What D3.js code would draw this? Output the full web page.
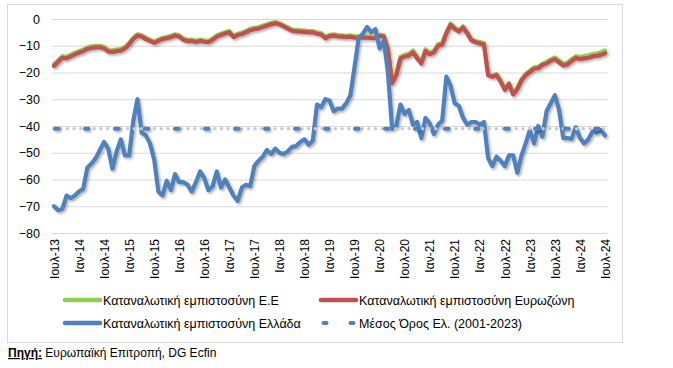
<!DOCTYPE html>
<html><head><meta charset="utf-8">
<script src="https://cdn.jsdelivr.net/npm/d3@7"></script>
<style>html,body{margin:0;padding:0;background:#fff}svg{display:block}</style>
</head><body>
<script>
// Monthly data, Jul-2013 .. Jul-2024 (133 months)
const tickLabels = ["Ιουλ-13","Ιαν-14","Ιουλ-14","Ιαν-15","Ιουλ-15","Ιαν-16","Ιουλ-16","Ιαν-17","Ιουλ-17","Ιαν-18","Ιουλ-18","Ιαν-19","Ιουλ-19","Ιαν-20","Ιουλ-20","Ιαν-21","Ιουλ-21","Ιαν-22","Ιουλ-22","Ιαν-23","Ιουλ-23","Ιαν-24","Ιουλ-24"];
const yTicks = [0,-10,-20,-30,-40,-50,-60,-70,-80];
const seriesNames = ["Καταναλωτική εμπιστοσύνη Ε.Ε","Καταναλωτική εμπιστοσύνη Ευρωζώνη","Καταναλωτική εμπιστοσύνη Ελλάδα","Μέσος Όρος Ελ. (2001-2023)"];
const greece = [
-70,-71.5,-71,-66,-67,-66,-64.5,-63.5,-55.5,-54,
-52,-49,-46,-48.5,-56,-49.5,-45,-51,-51,-38,
-30,-42.5,-43.5,-46.5,-52.5,-64.5,-66,-60.5,-64,-58,
-61,-61,-62,-64.5,-61,-57,-59.5,-64,-62.5,-57,
-63,-60,-63,-66,-68,-63,-62,-62.5,-55,-53,
-51.5,-49,-50.5,-48.5,-50,-50.5,-49.5,-47.8,-47.5,-46,
-45,-47,-45.5,-32,-33,-30,-30.5,-34.5,-33.5,-33.5,
-31.5,-28.5,-18,-7,-5.5,-3,-5,-3.8,-11,-8,
-20,-41,-40,-32,-35.5,-34,-39.5,-38.5,-44.5,-37,
-39,-43,-39.5,-38,-21.5,-25,-31.5,-32.5,-37,-39.5,
-38.5,-38.5,-39.5,-38.5,-52,-55,-51.5,-53,-55,-51,
-51,-57.5,-51,-46.5,-41.5,-46.5,-40,-44,-34.5,-31.5,
-28.5,-34,-44.5,-44.5,-44.8,-40.5,-44.5,-46.5,-45,-42,
-42.5,-41.5,-43.5];
const eurozone = [
-17.6,-16,-14.5,-14.7,-14,-13.2,-12.6,-12,-11.2,-10.8,
-10.6,-10.6,-11,-12.2,-12.3,-12,-11.8,-11,-9.5,-7.5,
-6.2,-6.6,-7.5,-8.2,-8.9,-8.2,-7.5,-7.2,-6.8,-6.2,
-6.6,-7.8,-8.3,-8.2,-8.6,-8.2,-8.5,-8.7,-7.8,-6.6,
-6,-5.4,-5,-6.8,-6,-5.6,-5,-4.2,-3.8,-3.6,
-3,-2.5,-2,-1.6,-2,-2.8,-3.6,-4.4,-4.6,-4.7,
-4.8,-5,-5,-5.5,-5.8,-7.2,-6.4,-6.2,-6.5,-6.6,
-6.8,-6.6,-7,-7,-7,-7,-7.1,-7.2,-6.3,-6.6,
-11.5,-24,-21,-14.8,-14,-13.7,-12.5,-14.7,-16.6,-12,
-13.2,-12.5,-10,-9.5,-5.4,-2.2,-3.7,-4.7,-3.2,-5.4,
-8,-8.7,-9.1,-9.5,-21,-21.6,-21,-23.4,-26.5,-24.4,
-28.2,-26.2,-23,-21,-19.8,-18.6,-18.4,-17.2,-16.6,-15.6,
-15,-16.2,-17.4,-17,-15.7,-14.6,-15,-14.7,-14.5,-14,
-13.8,-13.4,-12.8];
const eu = [
-16.9,-15.4,-13.9,-14.1,-13.4,-12.6,-12,-11.4,-10.6,-10.2,
-10,-10,-10.4,-11.6,-11.8,-11.4,-11.2,-10.4,-9,-7,
-5.7,-6.1,-7,-7.7,-8.4,-7.7,-7,-6.7,-6.3,-5.7,
-6.1,-7.3,-7.8,-7.7,-8.1,-7.7,-8,-8.2,-7.3,-6.1,
-5.5,-4.9,-4.5,-6.3,-5.5,-5.1,-4.5,-3.7,-3.3,-3.1,
-2.5,-2,-1.5,-1.1,-1.5,-2.3,-3.1,-3.9,-4.1,-4.2,
-4.3,-4.5,-4.5,-5,-5.3,-6.7,-5.9,-5.7,-6,-6.1,
-6.3,-6.1,-6.5,-6.5,-6.5,-6.5,-6.6,-6.7,-5.8,-6.1,
-11,-23.3,-20.4,-14.2,-13.4,-13,-11.8,-14,-16,-11.4,
-12.6,-11.9,-9.4,-8.9,-4.9,-1.7,-3.2,-4.2,-2.7,-4.9,
-7.5,-8.2,-8.6,-9,-20.5,-21.1,-20.5,-22.9,-26,-23.9,
-27.7,-25.7,-22.5,-20.5,-19.3,-18.1,-17.9,-16.7,-16.1,-15.1,
-14.4,-15.5,-16.7,-16.3,-15,-13.9,-14.2,-13.9,-13.6,-13.1,
-12.9,-12.4,-11.8];
const greeceAverage = -41;

const W = 673, H = 368;
const FONT = "'Liberation Sans', Arial, sans-serif";
const C_EU = "#8fcf4e", C_EZ = "#c0504d", C_GR = "#4f81bd";

const svg = d3.select("body").append("svg").attr("width", W).attr("height", H)
  .style("font-family", FONT);
svg.append("rect").attr("width", W).attr("height", H).attr("fill", "#fff");

const defs = svg.append("defs");
const f = defs.append("filter").attr("id","sh").attr("filterUnits","userSpaceOnUse")
  .attr("x",0).attr("y",0).attr("width",W).attr("height",H);
f.append("feDropShadow").attr("dx",1.5).attr("dy",1.8).attr("stdDeviation",1.2)
  .attr("flood-color","#000").attr("flood-opacity",0.3);

// chart frame
svg.append("rect").attr("x",7.5).attr("y",4.5).attr("width",615).attr("height",338)
  .attr("fill","none").attr("stroke","#d9d9d9").attr("stroke-width",1);

const n = greece.length;
const x = d3.scaleLinear().domain([0, n-1]).range([54, 605]);
const y = d3.scaleLinear().domain([-80, 0]).range([233, 19]);

// gridlines + y labels
const yAxis = d3.axisLeft(y).tickValues(yTicks).tickSize(-(608-52)).tickFormat(d3.format("d")).tickPadding(12);
const gy = svg.append("g").attr("transform","translate(52,0)").call(yAxis);
gy.select(".domain").remove();
gy.selectAll(".tick line").attr("stroke","#d9d9d9").attr("stroke-width",1);
gy.selectAll(".tick text").attr("font-size",12.5).attr("fill","#000").attr("font-family",FONT);

// x labels
const tickIdx = tickLabels.map((_, k) => k*6);
const xAxis = d3.axisBottom(x).tickValues(tickIdx).tickFormat((d,k)=>tickLabels[k]).tickSize(0);
const gx = svg.append("g").attr("transform","translate(0,233)").call(xAxis);
gx.select(".domain").remove();
gx.selectAll(".tick text")
  .attr("font-size",12).attr("fill","#000").attr("font-family",FONT)
  .attr("text-anchor","end")
  .attr("transform","rotate(-90)")
  .attr("x",-6).attr("y",0).attr("dy","0.35em");

const line = d3.line().x((d,i)=>x(i)).y(d=>y(d)).curve(d3.curveLinear);
const gl = svg.append("g").attr("filter","url(#sh)");
gl.append("path").datum(eu).attr("d",line).attr("fill","none").attr("stroke",C_EU)
  .attr("stroke-width",4.2).attr("stroke-linejoin","round").attr("stroke-linecap","round");
gl.append("path").datum(eurozone).attr("d",line).attr("fill","none").attr("stroke",C_EZ)
  .attr("stroke-width",4.2).attr("stroke-linejoin","round").attr("stroke-linecap","round");
gl.append("path").datum(greece).attr("d",line).attr("fill","none").attr("stroke",C_GR)
  .attr("stroke-width",4.2).attr("stroke-linejoin","round").attr("stroke-linecap","round");

// average line: grey dots + blue dashes
const avgData = greece.map(()=>greeceAverage);
svg.append("path").datum(avgData).attr("d",line).attr("fill","none").attr("stroke","#c8cdd3")
  .attr("stroke-width",3.5).attr("stroke-linecap","round").attr("stroke-dasharray","0 6.7");
svg.append("path").datum(avgData).attr("d",line).attr("fill","none").attr("stroke",C_GR)
  .attr("stroke-width",4).attr("stroke-linecap","round").attr("stroke-dasharray","3.5 26.5")
  .attr("stroke-dashoffset",-1).attr("filter","url(#sh)");

// legend
const leg = svg.append("g").attr("font-size",12.5).attr("fill","#000");
const legItems = [
  {x:65, y:300, c:C_EU, t:seriesNames[0], type:"line"},
  {x:321, y:300, c:C_EZ, t:seriesNames[1], type:"line"},
  {x:65, y:323, c:C_GR, t:seriesNames[2], type:"line"},
  {x:321, y:323, c:C_GR, t:seriesNames[3], type:"avg"}
];
legItems.forEach(it=>{
  if (it.type==="line") {
    leg.append("line").attr("x1",it.x).attr("x2",it.x+35).attr("y1",it.y).attr("y2",it.y)
      .attr("stroke",it.c).attr("stroke-width",4.5).attr("stroke-linecap","round");
  } else {
    [it.x+4, it.x+31].forEach(px=>{
      leg.append("line").attr("x1",px-1.5).attr("x2",px+1.5).attr("y1",it.y).attr("y2",it.y)
        .attr("stroke",it.c).attr("stroke-width",4).attr("stroke-linecap","round");
    });
  }
  leg.append("text").attr("x",it.x+38).attr("y",it.y+4.5).text(it.t);
});

// source
const src = svg.append("text").attr("x",8).attr("y",357).attr("font-size",12).attr("fill","#000");
src.append("tspan").attr("font-weight","bold").attr("text-decoration","underline").text("Πηγή:");
src.append("tspan").text(" Ευρωπαϊκή Επιτροπή, DG Ecfin");
</script>
</body></html>
